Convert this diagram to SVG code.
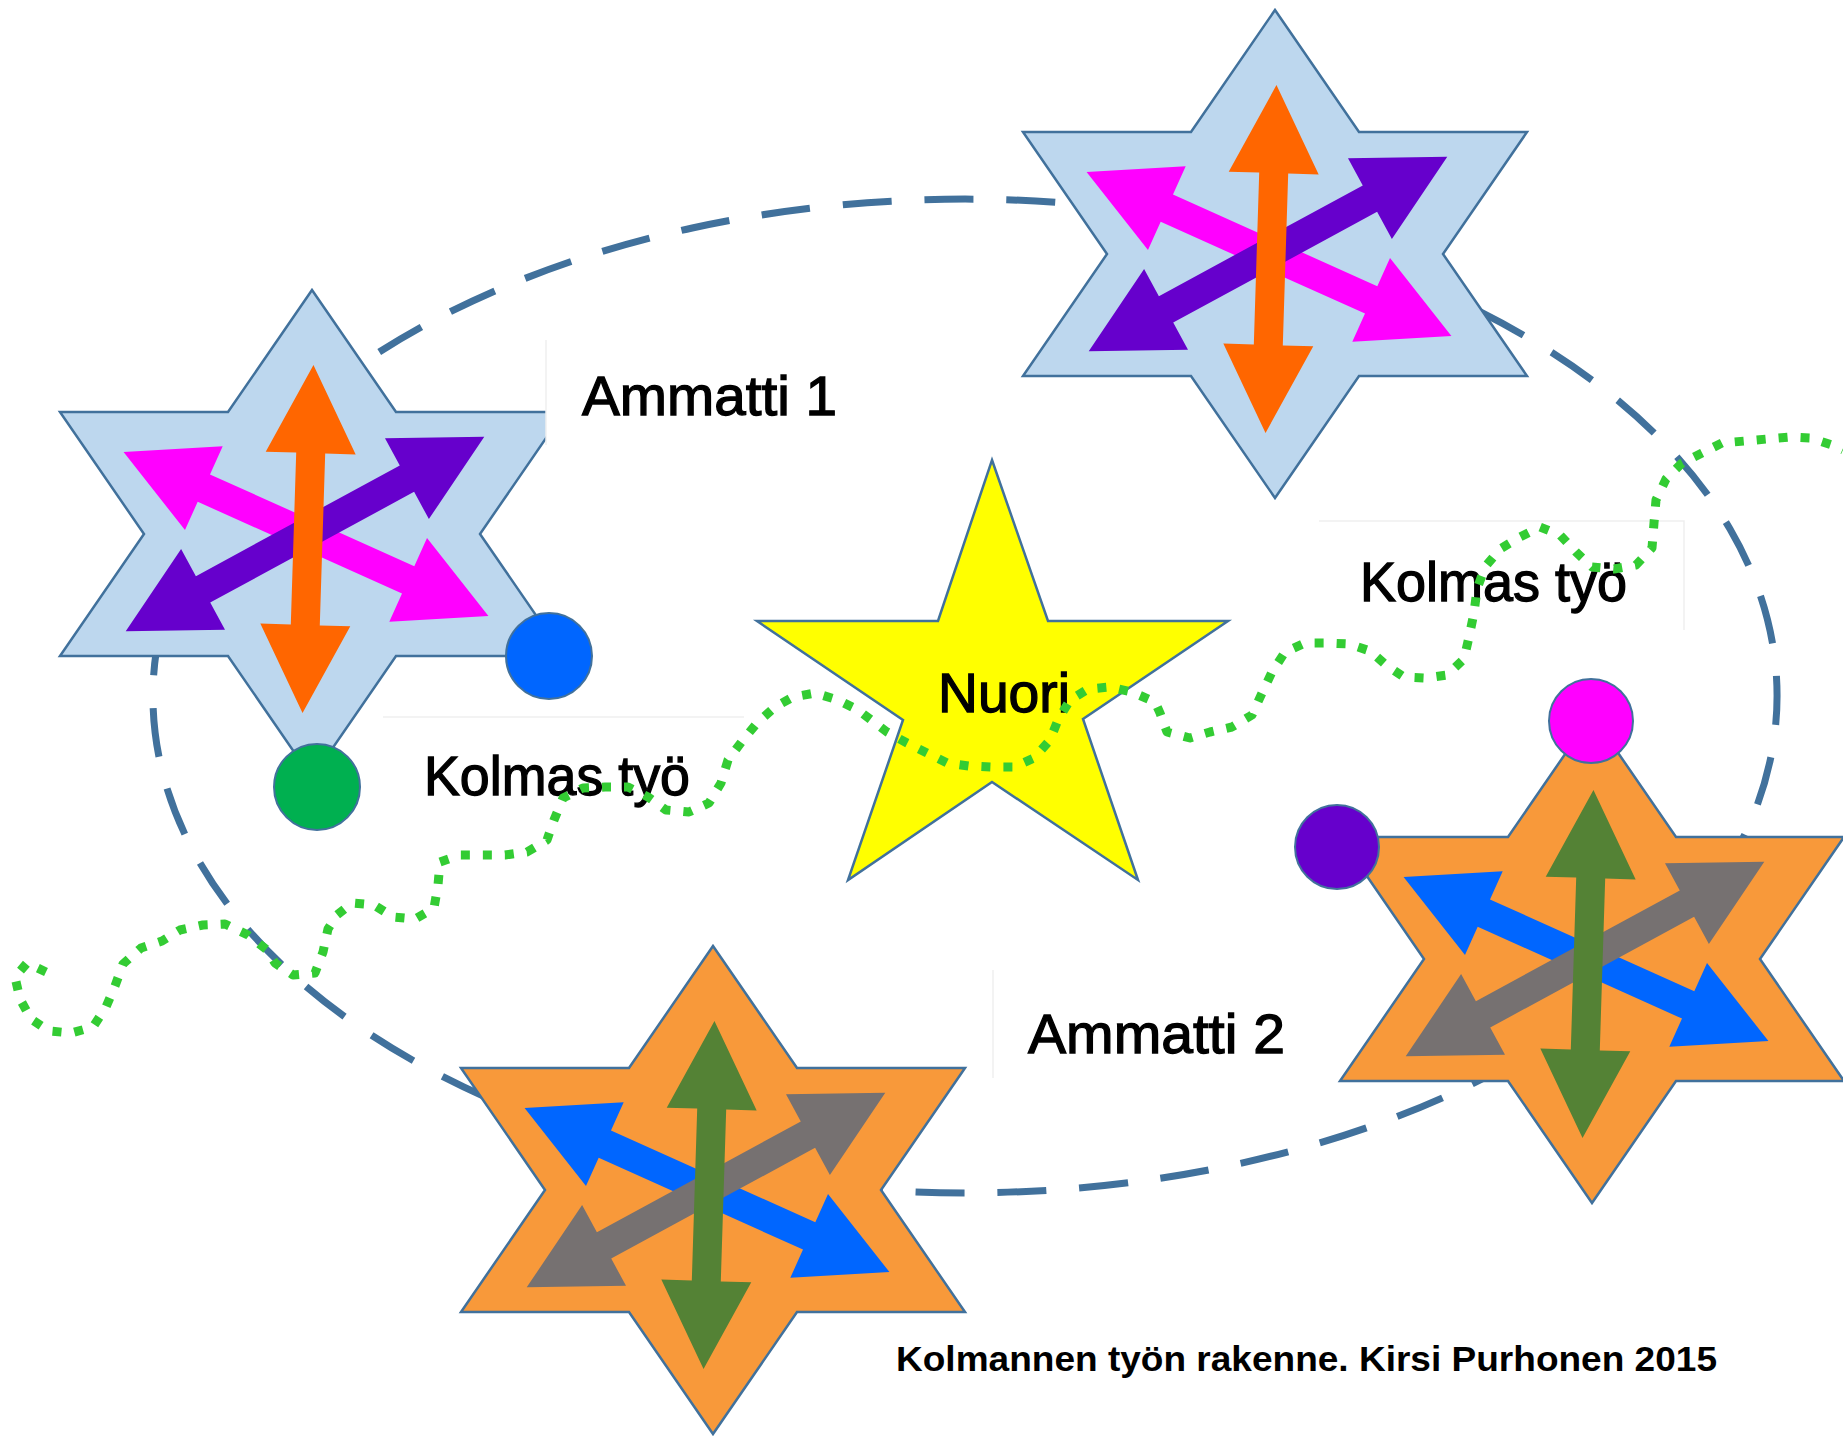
<svg xmlns="http://www.w3.org/2000/svg" width="1843" height="1440" viewBox="0 0 1843 1440">
<style>
.hex-blue{fill:#BDD7EE;stroke:#41719C;stroke-width:2.5;stroke-linejoin:miter}
.hex-orange{fill:#F8993A;stroke:#41719C;stroke-width:2.5;stroke-linejoin:miter}
.ring{fill:none;stroke:#41719C;stroke-width:7;stroke-dasharray:49 32.8}
.trail{fill:none;stroke:#33CC33;stroke-width:9;stroke-dasharray:9 13;stroke-linejoin:round}
.dot{stroke:#41719C;stroke-width:2}
.lbl{font-family:"Liberation Sans",Arial,sans-serif;font-size:56px;fill:#000;stroke:#000;stroke-width:1.3}
.cap{font-family:"Liberation Sans",Arial,sans-serif;font-size:35px;font-weight:bold;fill:#000}
.faint{stroke:#EFEFEF;stroke-width:1.5;fill:none}
</style>
<defs>
<path id="hex" d="M0,-244 L84,-122 L252,-122 L168,0 L252,122 L84,122 L0,244 L-84,122 L-252,122 L-168,0 L-252,-122 L-84,-122 Z"/>
<path id="arrV" transform="translate(-4,5) rotate(91.8)" d="M-174,0 L-86,-45 L-86,-14.5 L86,-14.5 L86,-45 L174,0 L86,45 L86,14.5 L-86,14.5 L-86,45 Z"/>
<path id="arrU" transform="translate(-7,0) rotate(-28.5)" d="M-204,0 L-116,-46 L-116,-15 L116,-15 L116,-46 L204,0 L116,46 L116,15 L-116,15 L-116,46 Z"/>
<path id="arrD" transform="translate(-6,0) rotate(24.2)" d="M-200,0 L-112,-46 L-112,-15 L112,-15 L112,-46 L200,0 L112,46 L112,15 L-112,15 L-112,46 Z"/>
</defs>
<rect width="1843" height="1440" fill="#FFFFFF"/>

<g id="connectors-ring">
<path class="ring" d="M200,863 A812,497 0 0 0 1730,529 A812,497 0 0 0 200,863"/>
</g>

<g id="star-top-left" transform="translate(312,534)">
<use href="#hex" class="hex-blue"/>
<use href="#arrD" fill="#FF00FF"/>
<use href="#arrU" fill="#6600CC"/>
<use href="#arrV" fill="#FF6600"/>
</g>

<g id="star-top-right" transform="translate(1275,254)">
<use href="#hex" class="hex-blue"/>
<use href="#arrD" fill="#FF00FF"/>
<use href="#arrU" fill="#6600CC"/>
<use href="#arrV" fill="#FF6600"/>
</g>

<g id="star-bottom-right" transform="translate(1592,959)">
<use href="#hex" class="hex-orange"/>
<use href="#arrD" fill="#0066FF"/>
<use href="#arrU" fill="#767171"/>
<use href="#arrV" fill="#548235"/>
</g>

<g id="star-bottom-center" transform="translate(713,1190)">
<use href="#hex" class="hex-orange"/>
<use href="#arrD" fill="#0066FF"/>
<use href="#arrU" fill="#767171"/>
<use href="#arrV" fill="#548235"/>
</g>

<g id="nuori">
<polygon points="992,460 1048,621 1228,621 1083,719 1138,880 992,782 848,880 903,720 757,621 938,621" fill="#FFFF00" stroke="#41719C" stroke-width="2.5"/>
<text class="lbl" x="938" y="712" textLength="132" lengthAdjust="spacingAndGlyphs">Nuori</text>
</g>

<g id="circles">
<circle id="circle-blue" class="dot" cx="549" cy="656" r="43" fill="#0066FF"/>
<circle id="circle-green" class="dot" cx="317" cy="787" r="43" fill="#00B050"/>
<circle id="circle-pink" class="dot" cx="1591" cy="721" r="42" fill="#FF00FF"/>
<circle id="circle-purple" class="dot" cx="1337" cy="847" r="42" fill="#6600CC"/>
</g>

<g id="label-ammatti1">
<rect x="546" y="340" width="300" height="105" fill="#FFFFFF"/>
<line class="faint" x1="546" y1="340" x2="546" y2="445"/>
<text class="lbl" x="582" y="415" textLength="255" lengthAdjust="spacingAndGlyphs">Ammatti 1</text>
</g>

<g id="label-ammatti2">
<line class="faint" x1="993" y1="970" x2="993" y2="1078"/>
<text class="lbl" x="1028" y="1053" textLength="257" lengthAdjust="spacingAndGlyphs">Ammatti 2</text>
</g>

<g id="label-kolmas-left">
<line class="faint" x1="383" y1="717" x2="744" y2="717"/>
<text class="lbl" x="424" y="795" textLength="266" lengthAdjust="spacingAndGlyphs">Kolmas työ</text>
</g>

<g id="label-kolmas-right">
<polyline class="faint" points="1319,521 1684,521 1684,630"/>
<text class="lbl" x="1360" y="601" textLength="267" lengthAdjust="spacingAndGlyphs">Kolmas työ</text>
</g>

<g id="caption">
<text class="cap" x="896" y="1371" textLength="821" lengthAdjust="spacingAndGlyphs">Kolmannen työn rakenne. Kirsi Purhonen 2015</text>
</g>

<g id="connectors-trail">
<path class="trail" d="M46,972 L27,963 L15,977 L20,999 L31,1019 L49,1031 L71,1033 L93,1027 L106,1007 L115,986 L123,964 L141,948 L162,941 L180,930 L203,925 L225,924 L248,935 L267,950 L275,963 L293,975 L315,973 L323,952 L328,929 L337,915 L352,903 L374,905 L393,917 L415,919 L434,908 L438,885 L440,862 L460,855 L483,855 L505,855 L527,852 L547,840 L554,820 L563,798 L583,788 L605,787 L628,787 L648,797 L666,810 L689,812 L709,803 L721,783 L728,760 L743,740 L757,723 L775,707 L793,697 L815,693 L838,700 L858,710 L887,732 L907,743 L927,753 L947,763 L969,766 L992,767 L1014,767 L1034,758 L1050,740 L1058,720 L1070,700 L1088,689 L1110,687 L1132,692 L1155,702 L1160,713 L1167,732 L1190,738 L1210,732 L1232,727 L1252,715 L1262,693 L1272,672 L1285,652 L1305,643 L1327,643 L1349,644 L1370,651 L1386,665 L1404,677 L1425,678 L1447,675 L1464,659 L1469,637 L1474,613 L1477,589 L1485,567 L1500,549 L1520,537 L1540,527 L1560,535 L1576,552 L1592,567 L1614,569 L1636,565 L1652,548 L1654,523 L1656,500 L1666,479 L1682,463 L1702,453 L1722,443 L1745,441 L1767,439 L1790,437 L1811,438 L1832,445 L1843,450"/>
</g>
</svg>
